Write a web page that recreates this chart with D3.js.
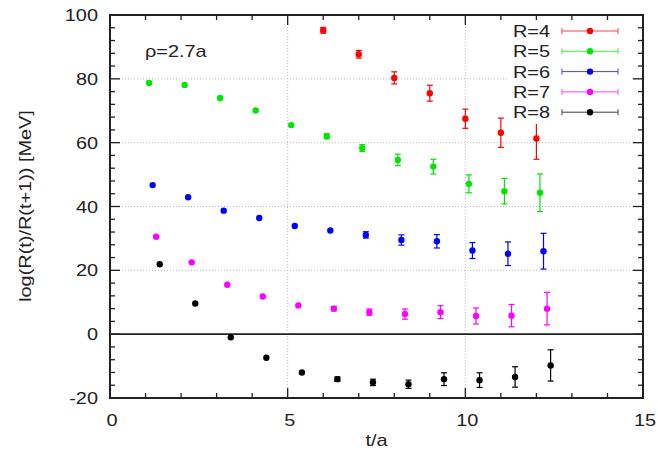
<!DOCTYPE html>
<html>
<head>
<meta charset="utf-8">
<script src="https://cdn.jsdelivr.net/npm/d3@7"></script>
<style>
  html, body { margin: 0; padding: 0; background: #fff; }
  svg { display: block; }
  text { font-family: "Liberation Sans", Arial, Helvetica, sans-serif; fill: #222; }
</style>
</head>
<body>
<svg id="chart" width="658" height="460"></svg>
<script>
// Effective-mass style data: log(R(t)/R(t+1)) in MeV for several separations R
const seriesNames = ["R=4", "R=5", "R=6", "R=7", "R=8"];
const seriesColors = ["#ff0000", "#00e600", "#0000ff", "#ff00ff", "#000000"];

const tR4 = [6, 7, 8, 9, 10, 11, 12];
const vR4 = [95.2, 87.7, 80.3, 75.5, 67.5, 63.1, 61.3];
const eR4 = [0.9, 1.2, 1.9, 2.5, 3.0, 4.6, 6.5];

const tR5 = [1.1, 2.1, 3.1, 4.1, 5.1, 6.1, 7.1, 8.1, 9.1, 10.1, 11.1, 12.1];
const vR5 = [78.7, 78.1, 74.0, 70.1, 65.5, 62.0, 58.3, 54.6, 52.5, 47.1, 44.8, 44.3];
const eR5 = [0.4, 0.4, 0.4, 0.5, 0.6, 0.8, 1.1, 1.8, 2.3, 2.8, 4.0, 5.9];

const tR6 = [1.2, 2.2, 3.2, 4.2, 5.2, 6.2, 7.2, 8.2, 9.2, 10.2, 11.2, 12.2];
const vR6 = [46.7, 42.9, 38.7, 36.4, 33.9, 32.5, 31.1, 29.5, 29.1, 26.2, 25.2, 26.0];
const eR6 = [0.3, 0.3, 0.4, 0.4, 0.5, 0.6, 1.0, 1.6, 2.1, 2.5, 3.7, 5.6];

const tR7 = [1.3, 2.3, 3.3, 4.3, 5.3, 6.3, 7.3, 8.3, 9.3, 10.3, 11.3, 12.3];
const vR7 = [30.5, 22.5, 15.5, 11.8, 9.0, 8.0, 6.9, 6.3, 6.9, 5.7, 5.8, 8.0];
const eR7 = [0.3, 0.3, 0.3, 0.4, 0.5, 0.7, 1.0, 1.6, 2.0, 2.5, 3.5, 5.1];

const tR8 = [1.4, 2.4, 3.4, 4.4, 5.4, 6.4, 7.4, 8.4, 9.4, 10.4, 11.4, 12.4];
const vR8 = [21.9, 9.6, -1.0, -7.4, -12.0, -14.1, -15.1, -15.7, -14.1, -14.4, -13.4, -9.8];
const eR8 = [0.3, 0.3, 0.3, 0.4, 0.6, 0.7, 1.0, 1.3, 2.0, 2.3, 3.2, 4.9];

const xTicks = [0, 5, 10, 15];
const yTicks = [-20, 0, 20, 40, 60, 80, 100];
const xLabel = "t/a";
const yLabel = "log(R(t)/R(t+1)) [MeV]";
const annotation = "ρ=2.7a";

const series = [
  { t: tR4, v: vR4, e: eR4 },
  { t: tR5, v: vR5, e: eR5 },
  { t: tR6, v: vR6, e: eR6 },
  { t: tR7, v: vR7, e: eR7 },
  { t: tR8, v: vR8, e: eR8 }
].map((s, i) => ({ name: seriesNames[i], color: seriesColors[i],
  pts: s.t.map((t, j) => ({ t, v: s.v[j], e: s.e[j] })) }));

const L = 110, R = 643, T = 15, B = 398;
const FS = 17, STRETCH = 1.17;

const svg = d3.select("#chart");
const x = d3.scaleLinear().domain([0, 15]).range([L, R]);
const y = d3.scaleLinear().domain([-20, 100]).range([B, T]);

// grid (dotted)
const grid = svg.append("g").attr("stroke", "#bbb").attr("stroke-width", 1)
  .attr("stroke-dasharray", "1,2");
[5, 10].forEach(v => grid.append("line")
  .attr("x1", x(v)).attr("x2", x(v)).attr("y1", T).attr("y2", B));
[20, 40, 60, 80].forEach(v => grid.append("line")
  .attr("x1", L).attr("x2", R).attr("y1", y(v)).attr("y2", y(v)));

// zero line
svg.append("line").attr("x1", L).attr("x2", R).attr("y1", y(0)).attr("y2", y(0))
  .attr("stroke", "#222").attr("stroke-width", 1.6);

// ticks on all four sides, pointing inward
const ticks = svg.append("g").attr("stroke", "#222").attr("stroke-width", 1.3);
d3.range(0, 15.01, 1).forEach(v => {
  const len = (v % 5 === 0) ? 10 : 5;
  ticks.append("line").attr("x1", x(v)).attr("x2", x(v)).attr("y1", B).attr("y2", B - len);
  ticks.append("line").attr("x1", x(v)).attr("x2", x(v)).attr("y1", T).attr("y2", T + len);
});
d3.range(-20, 100.01, 4).forEach(v => {
  const len = (v % 20 === 0) ? 10 : 5;
  ticks.append("line").attr("y1", y(v)).attr("y2", y(v)).attr("x1", L).attr("x2", L + len);
  ticks.append("line").attr("y1", y(v)).attr("y2", y(v)).attr("x1", R).attr("x2", R - len);
});

// tick labels
function htext(g, str, px, py, anchor) {
  return g.append("text")
    .attr("transform", `translate(${px},${py}) scale(${STRETCH},1)`)
    .attr("text-anchor", anchor).attr("font-size", FS).text(str);
}
const labels = svg.append("g");
xTicks.forEach(v => htext(labels, v, x(v) + 2, 426, "middle"));
yTicks.forEach(v => htext(labels, v, 98, y(v) + 6, "end"));

htext(labels, xLabel, x(7.5), 446, "middle");
svg.append("text")
  .attr("transform", `translate(31,206) rotate(-90) scale(${STRETCH},1)`)
  .attr("text-anchor", "middle").attr("font-size", FS).text(yLabel);

htext(labels, annotation, 145, 57, "start");

// error bars + points
const capW = 3;
series.forEach(s => {
  const g = svg.append("g");
  s.pts.forEach(p => {
    const cx = x(p.t), y1 = y(p.v - p.e), y2 = y(p.v + p.e);
    g.append("line").attr("x1", cx).attr("x2", cx).attr("y1", y1).attr("y2", y2)
      .attr("stroke", s.color).attr("stroke-width", 1.2);
    if (y1 - y2 > 4) {
      [y1, y2].forEach(yy => g.append("line")
        .attr("x1", cx - capW).attr("x2", cx + capW).attr("y1", yy).attr("y2", yy)
        .attr("stroke", s.color).attr("stroke-width", 1.2));
    }
    g.append("circle").attr("cx", cx).attr("cy", y(p.v)).attr("r", 3.2).attr("fill", s.color);
  });
});

// legend
const leg = svg.append("g");
leg.append("rect").attr("x", 508).attr("y", 20).attr("width", 122).attr("height", 104)
  .attr("fill", "#fff");
series.forEach((s, i) => {
  const ly = 31 + i * 20.3;
  htext(leg, s.name, 550, ly + 6, "end");
  const lg = leg.append("g").attr("stroke", s.color).attr("stroke-width", 1).attr("opacity", 0.75);
  lg.append("line").attr("x1", 562).attr("x2", 618).attr("y1", ly).attr("y2", ly);
  [562, 618].forEach(xx => lg.append("line").attr("x1", xx).attr("x2", xx)
    .attr("y1", ly - 3).attr("y2", ly + 3));
  leg.append("circle").attr("cx", 590).attr("cy", ly).attr("r", 3.2).attr("fill", s.color);
});

// frame
svg.append("rect").attr("x", L).attr("y", T).attr("width", R - L).attr("height", B - T)
  .attr("fill", "none").attr("stroke", "#222").attr("stroke-width", 2);
</script>
</body>
</html>
